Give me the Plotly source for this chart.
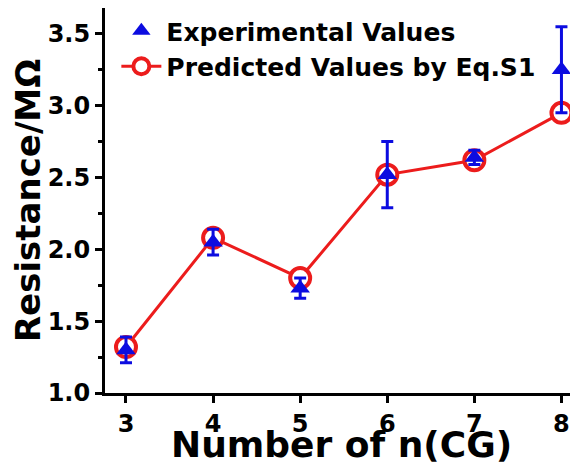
import plotly.graph_objects as go

n_cg = [3, 4, 5, 6, 7, 8]
experimental = [1.30, 2.05, 1.73, 2.52, 2.64, 3.25]
exp_error = [0.09, 0.09, 0.07, 0.23, 0.05, 0.30]
predicted = [1.32, 2.08, 1.80, 2.52, 2.62, 2.95]
y_ticks = [1.0, 1.5, 2.0, 2.5, 3.0, 3.5]
y_minor = [1.25, 1.75, 2.25, 2.75, 3.25]

FONT = "DejaVu Sans"
RED = "#ec1c1c"
BLUE = "#0c0ce0"

fig = go.Figure()
fig.add_trace(go.Scatter(
    x=n_cg, y=predicted, mode="lines+markers",
    name="Predicted Values by Eq.S1",
    line=dict(color=RED, width=3),
    marker=dict(symbol="circle", size=20, color="white",
                line=dict(color=RED, width=4)),
    legendrank=2,
))
fig.add_trace(go.Scatter(
    x=n_cg, y=experimental, mode="markers",
    name="Experimental Values",
    marker=dict(symbol="triangle-up", size=17, color=BLUE),
    error_y=dict(type="data", array=exp_error, color=BLUE,
                 thickness=3, width=6),
    legendrank=1,
))

tick_font = dict(size=24, family=FONT, weight="bold", color="black")

fig.update_layout(
    width=578, height=467,
    margin=dict(l=97, r=8, t=0, b=82, autoexpand=False),
    plot_bgcolor="white", paper_bgcolor="white",
    font=dict(family=FONT, color="black", weight="bold"),
    showlegend=True,
    legend=dict(x=0.024, y=1.0, xanchor="left", yanchor="top",
                bgcolor="rgba(0,0,0,0)",
                font=dict(size=25, family=FONT, weight="bold"),
                itemwidth=40, tracegroupgap=0),
    xaxis=dict(
        range=[2.759, 8.19], tickvals=n_cg, ticktext=[str(v) for v in n_cg],
        automargin=False,
        showline=True, linecolor="black", linewidth=3,
        ticks="outside", ticklen=7, tickwidth=3, tickcolor="black",
        ticklabelstandoff=0,
        showgrid=False, zeroline=False,
        tickfont=tick_font,
    ),
    yaxis=dict(
        range=[1.0, 3.68], tickvals=y_ticks,
        ticktext=["%.1f" % v for v in y_ticks],
        automargin=False,
        showline=True, linecolor="black", linewidth=3,
        ticks="outside", ticklen=7, tickwidth=3, tickcolor="black",
        minor=dict(tickvals=y_minor, ticks="outside", ticklen=4,
                   tickwidth=3, tickcolor="black"),
        showgrid=False, zeroline=False,
        tickfont=tick_font,
        title=dict(text="Resistance/MΩ",
                   font=dict(size=34, family=FONT, weight="bold"), standoff=10),
    ),
    annotations=[dict(
        text="Number of n(CG)", xref="paper", yref="paper",
        x=0.5, y=0, xanchor="center", yanchor="top", yshift=-29,
        showarrow=False,
        font=dict(size=36, family=FONT, weight="bold", color="black"),
    )],
)

fig.write_html("out.html")
